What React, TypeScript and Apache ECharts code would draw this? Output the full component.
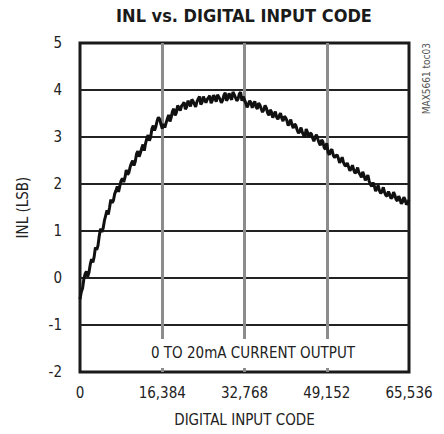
import React, { useEffect, useRef } from "react";
import * as echarts from "echarts";

const CODE_STEP = 256;
const inlValues = [
  -0.45, -0.3, -0.22, -0.02, 0.09, 0.14, 0.03, 0.12, 0.29, 0.4,
  0.33, 0.45, 0.65, 0.6, 0.69, 0.9, 1.05, 0.98, 1.06, 1.22,
  1.33, 1.44, 1.35, 1.5, 1.67, 1.6, 1.65, 1.79, 1.86, 1.95,
  1.83, 1.96, 2.07, 2.12, 2.04, 2.14, 2.3, 2.2, 2.24, 2.36,
  2.44, 2.5, 2.39, 2.48, 2.64, 2.7, 2.58, 2.66, 2.76, 2.84,
  2.71, 2.86, 2.97, 3.04, 2.92, 3.0, 3.18, 3.24, 3.14, 3.22,
  3.34, 3.42, 3.38, 3.27, 3.18, 3.28, 3.2, 3.3, 3.39, 3.47,
  3.33, 3.42, 3.55, 3.6, 3.46, 3.52, 3.67, 3.62, 3.56, 3.66,
  3.69, 3.74, 3.59, 3.64, 3.77, 3.72, 3.65, 3.8, 3.76, 3.7,
  3.64, 3.75, 3.81, 3.86, 3.69, 3.74, 3.86, 3.79, 3.73, 3.8,
  3.84, 3.88, 3.72, 3.78, 3.89, 3.82, 3.75, 3.9, 3.85, 3.8,
  3.73, 3.78, 3.89, 3.94, 3.77, 3.82, 3.93, 3.86, 3.79, 3.96,
  3.9, 3.84, 3.77, 3.81, 3.92, 3.95, 3.77, 3.86, 3.79, 3.72,
  3.63, 3.69, 3.77, 3.73, 3.62, 3.7, 3.76, 3.64, 3.6, 3.72,
  3.68, 3.6, 3.53, 3.58, 3.67, 3.62, 3.51, 3.46, 3.58, 3.53,
  3.41, 3.48, 3.54, 3.42, 3.38, 3.45, 3.51, 3.4, 3.34, 3.44,
  3.41, 3.35, 3.24, 3.3, 3.37, 3.25, 3.19, 3.28, 3.24, 3.15,
  3.08, 3.12, 3.2, 3.1, 3.04, 3.0, 3.17, 3.1, 3.0, 3.08,
  3.07, 2.98, 2.91, 3.0, 3.05, 2.96, 2.88, 2.82, 2.94, 2.9,
  2.77, 2.74, 2.87, 2.68, 2.62, 2.7, 2.74, 2.62, 2.56, 2.6,
  2.62, 2.55, 2.45, 2.5, 2.57, 2.46, 2.4, 2.38, 2.45, 2.36,
  2.28, 2.33, 2.4, 2.3, 2.23, 2.26, 2.35, 2.24, 2.2, 2.14,
  2.26, 2.18, 2.08, 2.12, 2.19, 2.06, 1.99, 1.95, 2.03, 1.96,
  1.85, 1.9, 1.97, 1.86, 1.8, 1.84, 1.93, 1.82, 1.76, 1.74,
  1.84, 1.78, 1.69, 1.72, 1.83, 1.76, 1.67, 1.64, 1.74, 1.68,
  1.58, 1.62, 1.72, 1.66, 1.56, 1.6, 1.66,
];
const xMin = 0;
const xMax = 65536;
const xInterval = 16384;
const yMin = -2;
const yMax = 5;
const yInterval = 1;

const titleText = "INL vs. DIGITAL INPUT CODE";
const xName = "DIGITAL INPUT CODE";
const yName = "INL (LSB)";
const noteText = "0 TO 20mA CURRENT OUTPUT";
const figId = "MAX5661 toc03";

const NARROW = '"Liberation Sans Narrow", "DejaVu Sans Condensed", sans-serif';

export default function App() {
  const ref = useRef<HTMLDivElement>(null);
  useEffect(() => {
    const chart = echarts.init(ref.current!, null, { renderer: "svg" });
    chart.setOption({
      animation: false,
      backgroundColor: "#ffffff",
      grid: {
        left: 80,
        right: 35,
        top: 43,
        bottom: 62,
        show: true,
        borderColor: "#1a1a1a",
        borderWidth: 3,
        backgroundColor: "transparent",
      },
      xAxis: {
        type: "value",
        min: xMin,
        max: xMax,
        interval: xInterval,
        name: xName,
        nameLocation: "middle",
        nameGap: 40,
        nameTextStyle: { fontFamily: NARROW, fontSize: 15, color: "#222" },
        axisLine: { show: false },
        axisTick: { show: false },
        axisLabel: {
          fontFamily: NARROW,
          fontSize: 15,
          color: "#222",
          margin: 13,
          formatter: (v: number) => v.toLocaleString("en-US"),
        },
        splitLine: {
          show: true,
          showMinLine: false,
          showMaxLine: false,
          lineStyle: { color: "#8c8c8c", width: 3 },
        },
      },
      yAxis: {
        type: "value",
        min: yMin,
        max: yMax,
        interval: yInterval,
        name: yName,
        nameLocation: "middle",
        nameGap: 50,
        nameTextStyle: { fontFamily: NARROW, fontSize: 15, color: "#222" },
        axisLine: { show: false },
        axisTick: { show: false },
        axisLabel: {
          fontFamily: NARROW,
          fontSize: 15,
          color: "#222",
          margin: 18,
        },
        splitLine: {
          show: true,
          showMinLine: false,
          showMaxLine: false,
          lineStyle: { color: "#222", width: 2 },
        },
      },
      series: [
        {
          type: "line",
          showSymbol: false,
          clip: true,
          lineStyle: { color: "#111", width: 3 },
          data: inlValues.map((v, i) => [i * CODE_STEP, v]),
          z: 3,
        },
      ],
      graphic: [
        {
          type: "text",
          x: 244,
          y: 15,
          style: {
            text: titleText,
            fontFamily: NARROW,
            fontWeight: "bold",
            fontSize: 18,
            fill: "#1a1a1a",
            align: "center",
            verticalAlign: "middle",
          },
        },
        {
          type: "rect",
          shape: { x: 150, y: 339, width: 206, height: 29 },
          style: { fill: "#ffffff" },
          z: 10,
        },
        {
          type: "text",
          x: 253,
          y: 353,
          z: 11,
          style: {
            text: noteText,
            fontFamily: NARROW,
            fontSize: 15,
            fill: "#222",
            align: "center",
            verticalAlign: "middle",
          },
        },
        {
          type: "text",
          x: 426,
          y: 43,
          rotation: Math.PI / 2,
          style: {
            text: figId,
            fontFamily: NARROW,
            fontSize: 10,
            fill: "#555",
            align: "right",
            verticalAlign: "middle",
          },
        },
      ],
    });
    return () => chart.dispose();
  }, []);
  return (
    <div
      ref={ref}
      style={{ position: "fixed", left: 0, top: 0, width: 444, height: 434 }}
    />
  );
}
